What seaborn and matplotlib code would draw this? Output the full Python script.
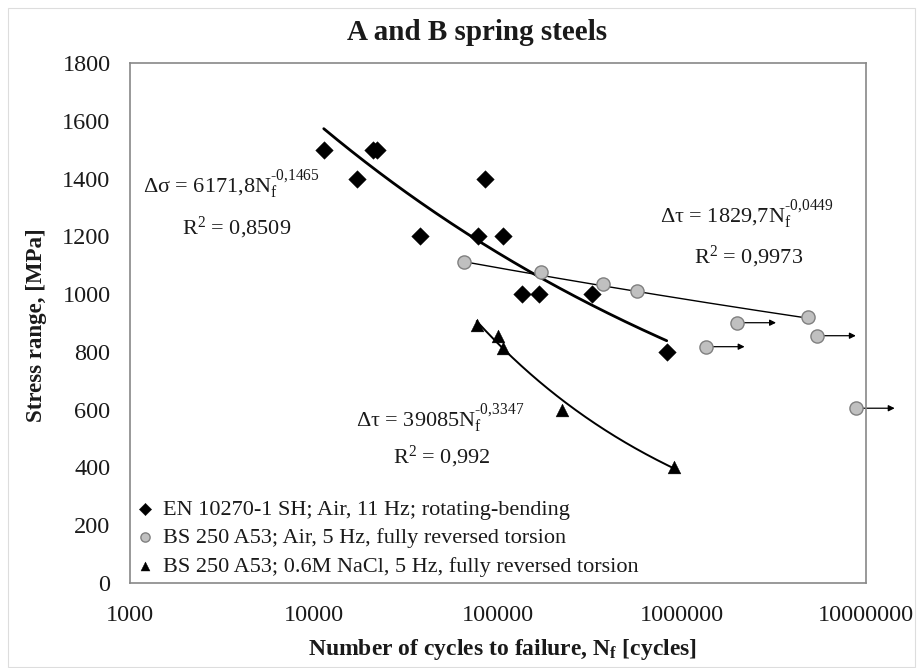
import numpy as np
import pandas as pd
import matplotlib
matplotlib.use("Agg")
import matplotlib.pyplot as plt
from matplotlib.patches import Rectangle
import seaborn as sns

# ---------------- data ----------------
en_N = [11300, 17200, 21000, 22100, 37700, 78200, 84900, 107000, 134600, 168000, 323000, 826000]
en_S = [1500, 1400, 1500, 1500, 1200, 1200, 1400, 1200, 1000, 1000, 1000, 800]

air_N = [65300, 171000, 370000, 567000, 4820000]
air_S = [1110, 1078, 1034, 1012, 920]
runout_N = [1350000, 2000000, 5430000, 8830000]
runout_S = [818, 901, 856, 605]

nacl_N = [76600, 100500, 106000, 224000, 900000]
nacl_S = [893, 855, 812, 600, 400]

# trend-line coefficients shown on the chart
fit_en = (6171.8, -0.1465)
fit_air = (1829.7, -0.0449)
fit_nacl = (39085, -0.3347)

labels = ["EN 10270-1 SH; Air, 11 Hz; rotating-bending",
          "BS 250 A53; Air, 5 Hz, fully reversed torsion",
          "BS 250 A53; 0.6M NaCl, 5 Hz, fully reversed torsion"]
x_ticks = [1000, 10000, 100000, 1000000, 10000000]
x_tick_labels = ["1000", "10000", "100000", "1000000", "10000000"]
y_ticks = [0, 200, 400, 600, 800, 1000, 1200, 1400, 1600, 1800]

# ---------------- style ----------------
sns.set_style("white")
plt.rcParams["font.family"] = ["Liberation Serif", "DejaVu Serif"]
plt.rcParams["mathtext.fontset"] = "custom"
plt.rcParams["mathtext.rm"] = "Liberation Serif"
plt.rcParams["mathtext.it"] = "Liberation Serif:italic"
plt.rcParams["mathtext.bf"] = "Liberation Serif:bold"

W, H = 917, 668
fig = plt.figure(figsize=(W / 100, H / 100), dpi=100)
fig.patch.set_facecolor("white")
fig.patches.append(Rectangle((8 / W, 0.002), 1 - 10 / W, 1 - 8 / H - 0.002,
                             transform=fig.transFigure, fill=False,
                             edgecolor="#dddddd", lw=0.8))

ax = fig.add_axes([130 / W, (H - 583) / H, 736 / W, 520 / H])

def trend(N, coef):
    xs = np.logspace(np.log10(min(N)), np.log10(max(N)), 200)
    return pd.DataFrame({"N": xs, "S": coef[0] * xs ** coef[1]})

t_en = trend(en_N, fit_en)
t_air = trend(air_N, fit_air)
t_nacl = trend(nacl_N, fit_nacl)

sns.lineplot(data=t_en, x="N", y="S", ax=ax, color="black", lw=2.0, zorder=2, legend=False)
sns.lineplot(data=t_air, x="N", y="S", ax=ax, color="black", lw=1.0, zorder=2, legend=False)
sns.lineplot(data=t_nacl, x="N", y="S", ax=ax, color="black", lw=1.4, zorder=2, legend=False)

# run-out arrows
for n, s in zip(runout_N, runout_S):
    ax.annotate("", xy=(n * 10 ** 0.21, s), xytext=(n, s),
                arrowprops=dict(arrowstyle="-|>", color="black", lw=0.9,
                                mutation_scale=9, shrinkA=0, shrinkB=0),
                annotation_clip=False, zorder=2)

sns.scatterplot(x=en_N, y=en_S, ax=ax, marker="D", s=80, color="black",
                edgecolor="black", linewidth=0.3, zorder=4, label=labels[0])
sns.scatterplot(x=air_N + runout_N, y=air_S + runout_S, ax=ax, marker="o", s=90,
                color="#c0c0c0", edgecolor="#808080", linewidth=1.0, zorder=4,
                label=labels[1], clip_on=False)
sns.scatterplot(x=nacl_N, y=nacl_S, ax=ax, marker="^", s=85, color="black",
                edgecolor="black", linewidth=0.3, zorder=4, label=labels[2])

ax.set_xscale("log")
ax.set_xlim(1000, 10000000)
ax.set_ylim(0, 1800)
ax.set_xticks(x_ticks)
ax.set_xticklabels(x_tick_labels)
ax.xaxis.set_minor_locator(matplotlib.ticker.NullLocator())
ax.set_yticks(y_ticks)
ax.set_xlabel("")
ax.set_ylabel("")

for sp in ax.spines.values():
    sp.set_color("#888888")
    sp.set_linewidth(1.2)
ax.tick_params(axis="both", which="major", direction="out", length=5, width=1.2,
               color="#888888", labelsize=17.5, labelcolor="#1a1a1a")
ax.tick_params(axis="y", pad=9)
ax.tick_params(axis="x", pad=11)

leg = ax.legend(loc="lower left", bbox_to_anchor=(0.005, 0.012), frameon=False,
                fontsize=16, markerscale=0.7, handlelength=1.0, handletextpad=0.3,
                labelspacing=0.36, borderpad=0, borderaxespad=0)
for t in leg.get_texts():
    t.set_color("#1a1a1a")

# equations (U+2010 hyphen keeps the short dash of the original)
tk = dict(fontsize=16, color="#1a1a1a", ha="left", va="baseline")
ax.text(1177, 1350, "\u0394\u03c3 = 6171,8N$_\\mathregular{f}^\\mathregular{\u20100{,}1465}$", **tk)
ax.text(1918, 1208, "R$^\\mathregular{2}$ = 0,8509", **tk)
ax.text(759000, 1246, "\u0394\u03c4 = 1829,7N$_\\mathregular{f}^\\mathregular{\u20100{,}0449}$", **tk)
ax.text(1161000, 1108, "R$^\\mathregular{2}$ = 0,9973", **tk)
ax.text(16900, 540, "\u0394\u03c4 = 39085N$_\\mathregular{f}^\\mathregular{\u20100{,}3347}$", **tk)
ax.text(26800, 415, "R$^\\mathregular{2}$ = 0,992", **tk)

fig.text(477 / W, 1 - 32 / H, "A and B spring steels", fontsize=21, fontweight="bold",
         ha="center", va="center", color="#1a1a1a")
fig.text(502 / W, 1 - 650 / H,
         "Number of cycles to failure, N$_\\mathbf{f}$ [cycles]",
         fontsize=17, fontweight="bold", ha="center", va="center", color="#1a1a1a")
fig.text(37 / W, 1 - 325 / H, "Stress range, [MPa]", fontsize=16.5, fontweight="bold",
         rotation=90, ha="center", va="center", color="#1a1a1a")

fig.savefig("out.png", dpi=100)
